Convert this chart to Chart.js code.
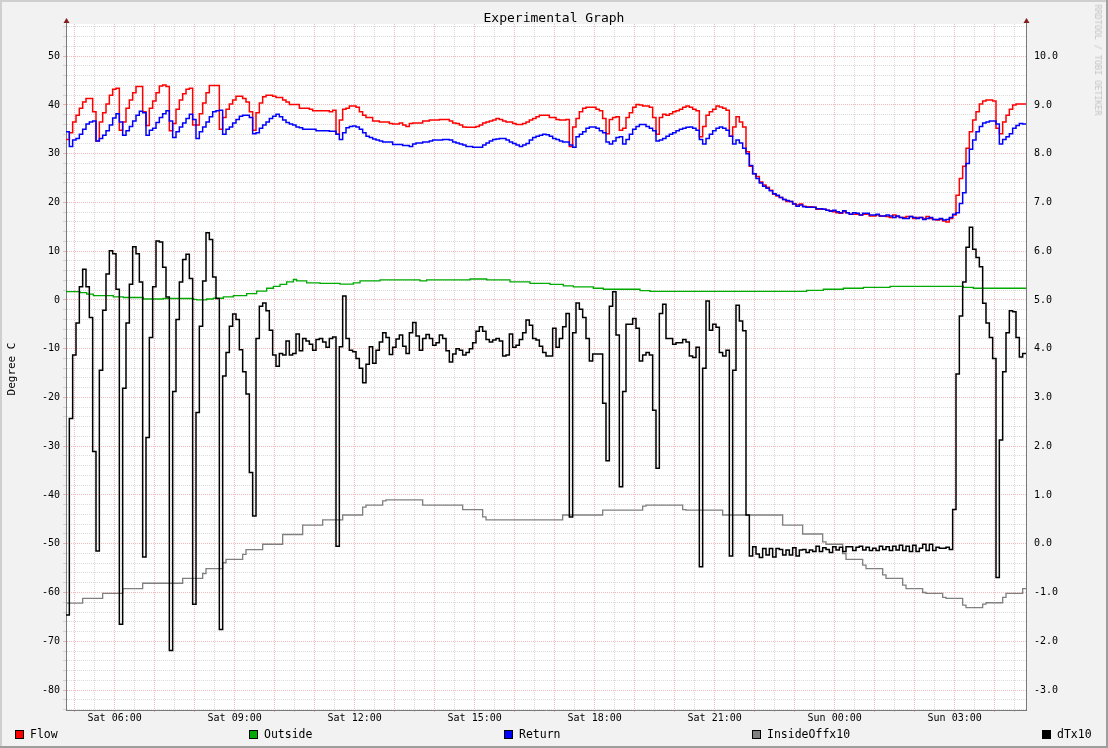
<!DOCTYPE html>
<html>
<head>
<meta charset="utf-8">
<title>Experimental Graph</title>
<script src="https://cdn.jsdelivr.net/npm/chart.js@4.4.1/dist/chart.umd.min.js"></script>
<style>
  html, body { margin: 0; padding: 0; background: #f2f2f2; }
  #wrap { position: relative; width: 1108px; height: 748px; overflow: hidden; font-family: 'DejaVu Sans Mono', monospace; }
  #wrap canvas { position: absolute; left: 0; top: 0; }
  .txt { position: absolute; white-space: nowrap; color: #000; }
  #title { left: 0; width: 1108px; top: 10px; text-align: center; font-size: 13px; line-height: 16px; }
  #ylabel { left: 11px; top: 369px; font-size: 11px; transform: translate(-50%, -50%) rotate(-90deg); }
  #stamp { left: 1098px; top: 60px; font-size: 8.4px; color: #c4c4c4; transform: translate(-50%, -50%) rotate(90deg); }
  .sw { position: absolute; top: 730px; width: 7px; height: 7px; border: 1px solid #000; }
  .key { position: absolute; top: 727px; font-size: 11.5px; line-height: 15px; white-space: nowrap; }
</style>
</head>
<body>
<div id="wrap">
  <canvas id="graph" width="1108" height="748"></canvas>
  <div class="txt" id="title">Experimental Graph</div>
  <div class="txt" id="ylabel">Degree C</div>
  <div class="txt" id="stamp">RRDTOOL / TOBI OETIKER</div>
  <div id="legend"></div>
</div>
<script>
// x = minutes after Sat 00:00, y = value; each point starts a 5 minute step that lasts until the next point
const flow = [[287,32.9],[292,34.3],[297,36.5],[302,37.9],[307,39.3],[312,40.6],[317,41.3],[327,38.6],[332,32.6],[337,36.5],[342,38.4],[347,40.2],[352,42.0],[357,43.2],[362,43.4],[367,34.8],[372,36.5],[377,39.3],[382,41.0],[387,42.5],[392,43.8],[402,38.6],[407,35.8],[412,39.3],[417,40.8],[422,42.5],[427,43.9],[432,44.1],[437,43.8],[442,34.7],[447,36.2],[452,39.1],[457,41.0],[462,42.3],[467,43.2],[472,43.4],[477,35.9],[487,38.2],[492,40.4],[497,42.5],[502,44.0],[517,35.0],[522,37.4],[527,39.1],[532,40.2],[537,41.0],[542,41.8],[552,41.3],[557,40.6],[562,38.6],[567,34.8],[572,38.4],[577,40.4],[582,41.7],[587,42.0],[597,41.8],[602,41.5],[612,41.0],[617,40.6],[622,40.1],[637,39.3],[652,39.1],[657,38.8],[682,38.6],[687,38.9],[692,34.0],[697,36.9],[702,39.1],[707,39.3],[712,39.8],[722,39.5],[727,38.6],[732,37.9],[737,37.4],[747,36.7],[757,36.5],[772,36.2],[777,36.1],[787,36.3],[792,35.9],[797,35.6],[802,36.2],[807,36.3],[822,36.7],[832,36.9],[847,37.0],[862,36.7],[867,36.3],[872,36.2],[877,35.9],[882,35.5],[887,35.4],[902,35.6],[907,35.9],[912,36.3],[917,36.5],[922,36.7],[927,36.9],[932,37.2],[937,37.0],[942,36.7],[947,36.5],[957,36.2],[962,36.0],[972,36.2],[977,36.5],[982,36.9],[987,37.2],[992,37.6],[997,37.9],[1012,37.4],[1022,37.0],[1027,36.9],[1037,37.0],[1042,31.5],[1047,35.5],[1052,37.2],[1057,38.6],[1062,39.3],[1067,39.5],[1082,39.1],[1087,38.8],[1092,37.2],[1097,34.1],[1102,37.0],[1107,37.4],[1112,37.6],[1117,34.8],[1122,35.2],[1127,37.4],[1132,38.4],[1137,39.5],[1142,40.1],[1147,40.0],[1152,39.8],[1162,39.5],[1167,37.4],[1172,34.0],[1177,37.4],[1182,38.1],[1187,37.9],[1192,38.2],[1197,38.6],[1202,38.8],[1207,39.1],[1212,39.5],[1217,39.8],[1222,39.5],[1227,39.1],[1232,38.8],[1237,33.5],[1242,35.6],[1247,37.9],[1252,38.6],[1257,39.1],[1262,39.8],[1267,39.6],[1272,39.3],[1277,38.9],[1282,33.6],[1287,35.5],[1292,37.6],[1297,36.5],[1302,35.5],[1307,30.4],[1312,27.4],[1317,25.9],[1322,25.3],[1327,24.2],[1332,23.6],[1337,23.1],[1342,22.5],[1347,21.7],[1352,21.3],[1357,21.0],[1362,20.6],[1367,20.2],[1377,19.7],[1382,19.5],[1387,19.7],[1392,19.2],[1397,19.1],[1407,19.0],[1412,18.6],[1427,18.4],[1432,18.3],[1437,18.1],[1442,17.9],[1447,17.8],[1452,18.1],[1457,17.9],[1462,17.6],[1477,17.4],[1482,17.6],[1492,17.2],[1502,17.4],[1507,17.2],[1517,17.1],[1522,16.9],[1527,17.4],[1532,17.1],[1537,16.9],[1547,17.1],[1557,16.7],[1562,16.9],[1572,16.7],[1577,17.1],[1582,16.7],[1587,16.5],[1592,16.4],[1597,16.5],[1602,16.2],[1607,16.0],[1612,16.7],[1617,17.4],[1622,21.5],[1627,24.9],[1632,27.4],[1637,31.1],[1642,34.5],[1647,36.9],[1652,38.6],[1657,40.2],[1662,40.8],[1667,41.0],[1677,40.8],[1682,35.2],[1687,34.1],[1692,36.5],[1697,37.9],[1702,39.1],[1707,40.0],[1712,40.2],[1727,40.2]];

const outside = [[287,1.7],[308,1.5],[318,1.2],[328,0.9],[358,0.65],[373,0.5],[403,0.2],[433,0.3],[478,0.1],[483,0.0],[498,0.2],[508,0.35],[523,0.65],[538,0.9],[558,1.3],[573,1.8],[588,2.4],[598,2.8],[608,3.2],[618,3.7],[628,4.2],[633,3.9],[648,3.5],[668,3.4],[698,3.25],[718,3.5],[728,3.9],[758,4.1],[818,3.9],[828,4.1],[893,4.3],[918,4.1],[953,3.7],[983,3.4],[1013,3.2],[1033,2.9],[1048,2.7],[1078,2.4],[1093,2.2],[1148,1.9],[1163,1.75],[1398,1.95],[1423,2.2],[1453,2.4],[1483,2.6],[1523,2.8],[1633,2.6],[1648,2.4],[1727,2.4]];

const ret = [[287,34.5],[292,31.5],[297,32.8],[302,33.1],[307,34.0],[312,35.0],[317,36.1],[322,36.5],[327,36.7],[332,32.6],[337,33.1],[342,33.8],[347,34.7],[352,35.9],[357,37.3],[362,38.2],[367,36.5],[372,33.8],[377,34.7],[382,35.6],[387,36.7],[392,37.9],[397,38.7],[402,38.4],[407,33.8],[412,34.8],[417,35.2],[422,36.4],[427,37.4],[432,38.2],[437,38.8],[442,36.7],[447,33.3],[452,34.5],[457,35.5],[462,36.3],[467,37.2],[472,38.1],[477,37.0],[482,33.1],[487,34.5],[492,35.5],[497,36.5],[502,37.6],[507,38.6],[512,38.8],[517,38.9],[522,34.0],[527,35.0],[532,35.5],[537,36.3],[542,37.0],[547,37.7],[552,37.9],[562,37.4],[567,34.1],[572,34.3],[577,35.2],[582,35.9],[587,36.5],[592,37.2],[597,37.7],[602,38.1],[607,37.6],[612,36.9],[617,36.4],[622,36.1],[627,35.9],[632,35.5],[637,35.3],[642,35.0],[662,34.7],[682,34.6],[692,34.0],[697,32.9],[702,34.3],[707,35.3],[712,35.6],[717,35.7],[722,35.5],[727,35.0],[732,34.3],[737,33.6],[742,33.3],[747,33.0],[752,32.8],[757,32.6],[762,32.4],[777,31.9],[792,31.7],[802,31.5],[807,32.0],[812,32.2],[822,32.4],[832,32.6],[837,32.8],[852,32.9],[862,32.8],[867,32.4],[872,32.2],[877,32.0],[882,31.8],[887,31.5],[897,31.3],[912,31.8],[917,32.2],[922,32.6],[927,32.9],[932,33.0],[937,33.1],[947,32.8],[952,32.4],[957,32.1],[962,31.8],[967,31.5],[972,31.8],[977,32.1],[982,32.8],[987,33.3],[992,33.6],[997,33.8],[1002,34.0],[1007,33.9],[1012,33.6],[1017,33.1],[1022,32.9],[1027,32.6],[1032,32.4],[1042,31.8],[1047,31.3],[1052,33.5],[1057,34.0],[1062,34.5],[1067,35.2],[1072,35.5],[1082,35.2],[1087,34.7],[1092,34.3],[1097,32.4],[1102,32.0],[1107,32.6],[1112,33.3],[1117,33.5],[1122,32.0],[1127,32.9],[1132,34.0],[1137,35.0],[1142,35.6],[1147,36.0],[1157,35.6],[1162,35.2],[1167,34.7],[1172,32.6],[1177,32.8],[1182,33.1],[1187,33.6],[1192,34.0],[1197,34.3],[1202,34.7],[1207,35.0],[1212,35.2],[1217,35.4],[1222,35.5],[1227,35.2],[1232,34.8],[1237,32.9],[1242,32.0],[1247,33.1],[1252,34.0],[1257,34.7],[1262,35.2],[1267,35.5],[1272,35.2],[1277,34.8],[1282,33.6],[1287,32.0],[1292,32.8],[1297,32.2],[1302,31.1],[1307,30.0],[1312,27.6],[1317,25.9],[1322,24.9],[1327,24.0],[1332,23.3],[1337,22.9],[1342,22.4],[1347,21.8],[1352,21.5],[1357,21.0],[1362,20.6],[1367,20.4],[1372,20.2],[1377,19.7],[1382,19.2],[1387,19.5],[1392,19.1],[1397,19.0],[1412,18.7],[1422,18.6],[1427,18.4],[1432,18.2],[1437,18.4],[1442,18.1],[1447,17.9],[1452,18.3],[1457,17.9],[1462,17.6],[1467,17.9],[1472,17.8],[1477,17.4],[1482,17.8],[1492,17.4],[1502,17.6],[1507,17.2],[1517,17.4],[1522,17.2],[1527,16.9],[1532,17.2],[1537,16.9],[1542,16.7],[1552,17.1],[1557,16.9],[1562,16.7],[1567,16.9],[1572,16.5],[1577,16.7],[1582,16.9],[1587,16.5],[1597,16.7],[1602,16.4],[1607,16.5],[1612,16.9],[1617,17.6],[1622,17.9],[1627,19.8],[1632,22.0],[1637,28.0],[1642,30.9],[1647,32.8],[1652,34.5],[1657,35.6],[1662,36.3],[1667,36.5],[1672,36.7],[1682,36.1],[1687,32.0],[1692,32.9],[1697,33.5],[1702,34.1],[1707,35.2],[1712,35.8],[1717,36.2],[1722,36.1],[1727,36.1]];

const insideOff = [[287,-62.2],[312,-61.2],[342,-60.2],[372,-59.2],[402,-58.1],[462,-57.1],[492,-56.1],[497,-55.1],[522,-53.9],[527,-53.2],[552,-52.2],[557,-51.2],[582,-50.1],[612,-48.1],[642,-46.2],[672,-45.1],[702,-44.1],[732,-42.5],[737,-42.1],[762,-41.2],[767,-41.0],[822,-42.1],[882,-43.0],[912,-44.5],[917,-45.1],[1032,-44.1],[1092,-43.1],[1152,-42.3],[1157,-42.1],[1212,-43.0],[1217,-43.1],[1272,-44.1],[1362,-46.2],[1392,-48.0],[1422,-49.6],[1427,-50.1],[1452,-52.0],[1457,-53.2],[1482,-54.4],[1487,-55.1],[1512,-56.4],[1517,-57.1],[1542,-58.5],[1547,-59.2],[1572,-60.0],[1577,-60.2],[1602,-61.0],[1607,-61.2],[1632,-62.6],[1637,-63.1],[1662,-62.4],[1667,-62.1],[1692,-61.0],[1697,-60.2],[1722,-59.2],[1727,-59.2]];

const dTx10 = [[287,-64.6],[292,-24.3],[297,-11.3],[302,-4.7],[307,2.7],[312,6.3],[317,2.7],[322,-3.6],[327,-31.1],[332,-51.5],[337,-14.4],[342,-2.1],[347,5.3],[352,10.1],[357,9.5],[362,2.2],[367,-66.5],[372,-18.1],[377,-4.7],[382,3.2],[387,10.9],[392,9.5],[397,3.7],[402,-52.7],[407,-28.2],[412,-7.7],[417,2.7],[422,12.1],[427,11.9],[432,6.7],[437,0.6],[442,-71.9],[447,-18.8],[452,-4.0],[457,3.7],[462,8.3],[467,9.4],[472,4.4],[477,-62.4],[482,-23.1],[487,-5.4],[492,3.9],[497,13.8],[502,12.4],[507,4.7],[512,0.3],[517,-67.6],[522,-15.6],[527,-10.8],[532,-5.4],[537,-2.9],[542,-4.0],[547,-10.2],[552,-14.7],[557,-19.3],[562,-35.4],[567,-44.3],[572,-7.9],[577,-1.3],[582,-0.6],[587,-2.2],[592,-6.2],[597,-11.3],[602,-13.6],[607,-11.0],[612,-11.3],[617,-8.4],[622,-11.3],[627,-11.0],[632,-7.0],[637,-10.4],[642,-7.9],[647,-8.4],[652,-9.1],[657,-10.3],[662,-8.1],[667,-7.9],[672,-8.6],[677,-9.7],[682,-7.9],[687,-7.6],[692,-50.5],[697,-9.6],[702,0.8],[707,-7.9],[712,-10.3],[717,-10.6],[722,-12.0],[727,-14.0],[732,-17.0],[737,-13.2],[742,-9.6],[747,-13.0],[752,-10.3],[757,-8.6],[762,-6.7],[767,-7.7],[772,-11.2],[777,-9.7],[782,-8.0],[787,-7.2],[792,-9.5],[797,-11.0],[802,-6.7],[807,-4.6],[812,-7.4],[817,-10.3],[822,-7.9],[827,-7.1],[832,-7.9],[837,-9.3],[842,-8.8],[847,-7.2],[852,-7.9],[857,-10.4],[862,-12.7],[867,-11.1],[872,-10.0],[877,-10.3],[882,-11.3],[887,-10.8],[892,-10.0],[897,-8.8],[902,-6.4],[907,-5.5],[912,-6.4],[917,-8.1],[922,-8.6],[927,-8.2],[932,-7.9],[937,-8.4],[942,-11.5],[947,-11.3],[952,-7.0],[957,-9.7],[962,-9.3],[967,-8.1],[972,-6.7],[977,-4.1],[982,-5.2],[987,-7.9],[992,-8.2],[997,-9.5],[1002,-10.8],[1007,-11.5],[1017,-5.8],[1022,-9.7],[1027,-7.9],[1032,-5.5],[1037,-2.8],[1042,-44.5],[1047,-6.7],[1052,-0.6],[1057,-1.9],[1062,-3.6],[1067,-7.9],[1072,-12.5],[1077,-11.1],[1092,-21.2],[1097,-33.0],[1102,-1.3],[1107,1.7],[1112,-7.2],[1117,-38.3],[1122,-18.8],[1127,-5.0],[1137,-3.8],[1142,-5.8],[1147,-12.5],[1152,-11.3],[1157,-10.8],[1162,-11.3],[1167,-22.6],[1172,-34.5],[1177,-2.8],[1182,-0.9],[1187,-7.9],[1197,-9.1],[1202,-8.8],[1212,-8.1],[1217,-8.6],[1222,-11.5],[1227,-11.8],[1232,-9.7],[1237,-54.7],[1242,-14.0],[1247,-0.2],[1252,-6.2],[1257,-5.0],[1262,-5.6],[1267,-10.8],[1272,-11.5],[1277,-10.3],[1282,-52.5],[1287,-14.4],[1292,-1.1],[1297,-4.3],[1302,-6.3],[1307,-44.1],[1312,-52.5],[1317,-50.6],[1322,-52.1],[1327,-52.8],[1332,-51.0],[1337,-52.3],[1342,-51.0],[1347,-52.7],[1352,-51.0],[1357,-51.2],[1362,-52.3],[1367,-51.3],[1372,-52.3],[1377,-50.8],[1382,-52.5],[1387,-51.3],[1392,-51.2],[1397,-51.8],[1402,-51.3],[1407,-51.6],[1412,-50.5],[1417,-51.6],[1422,-50.8],[1427,-51.2],[1432,-51.8],[1437,-50.6],[1442,-51.3],[1447,-50.7],[1452,-51.6],[1457,-50.6],[1467,-51.4],[1472,-50.7],[1477,-50.5],[1482,-51.3],[1487,-50.7],[1492,-51.4],[1497,-50.9],[1502,-51.4],[1507,-50.5],[1512,-51.2],[1517,-50.6],[1522,-51.4],[1527,-50.5],[1532,-51.3],[1537,-50.3],[1542,-51.4],[1547,-50.5],[1552,-51.6],[1557,-50.3],[1562,-51.6],[1567,-50.9],[1572,-50.1],[1577,-51.4],[1582,-50.1],[1587,-51.4],[1592,-50.7],[1597,-50.9],[1607,-50.7],[1612,-51.2],[1617,-43.0],[1622,-15.2],[1627,-3.3],[1632,3.7],[1637,10.8],[1642,14.9],[1647,10.4],[1652,8.7],[1657,6.8],[1662,-0.7],[1667,-4.7],[1672,-7.7],[1677,-12.0],[1682,-56.9],[1687,-28.7],[1692,-14.7],[1697,-6.7],[1702,-2.2],[1707,-2.4],[1712,-7.7],[1717,-11.7],[1722,-11.0],[1727,-11.0]];

// bottom axis labels
const labelMinutes = [360, 540, 720, 900, 1080, 1260, 1440, 1620];
const timeLabels = ['Sat 06:00', 'Sat 09:00', 'Sat 12:00', 'Sat 15:00', 'Sat 18:00', 'Sat 21:00', 'Sun 00:00', 'Sun 03:00'];

const mono = 'DejaVu Sans Mono';
const minorGrid = 'rgba(143,143,143,0.32)';
const majorGrid = 'rgba(222,79,79,0.38)';
const axisColor = '#7a7a7a';

// grey page, white plot area, shaded frame and axis arrows like rrdtool
const rrdFrame = {
  id: 'rrdFrame',
  beforeDraw(c) {
    const ctx = c.ctx, a = c.chartArea;
    ctx.save();
    ctx.fillStyle = '#f2f2f2';
    ctx.fillRect(0, 0, c.width, c.height);
    ctx.fillStyle = '#cfcfcf';
    ctx.fillRect(0, 0, c.width, 2);
    ctx.fillRect(0, 0, 2, c.height);
    ctx.fillStyle = '#9e9e9e';
    ctx.fillRect(0, c.height - 2, c.width, 2);
    ctx.fillRect(c.width - 2, 0, 2, c.height);
    ctx.fillStyle = '#ffffff';
    ctx.fillRect(a.left, a.top, a.right - a.left, a.bottom - a.top);
    ctx.restore();
  },
  afterDraw(c) {
    const ctx = c.ctx, a = c.chartArea;
    ctx.save();
    ctx.strokeStyle = axisColor;
    ctx.lineWidth = 1;
    ctx.beginPath();
    ctx.moveTo(a.left + 0.5, a.top); ctx.lineTo(a.left + 0.5, a.top - 3);
    ctx.moveTo(a.right + 0.5, a.top); ctx.lineTo(a.right + 0.5, a.top - 3);
    ctx.stroke();
    ctx.fillStyle = '#7f1f1f';
    [a.left + 0.5, a.right + 0.5].forEach(x => {
      ctx.beginPath();
      ctx.moveTo(x, a.top - 6);
      ctx.lineTo(x - 3, a.top - 1);
      ctx.lineTo(x + 3, a.top - 1);
      ctx.closePath();
      ctx.fill();
    });
    ctx.restore();
  }
};

function series(label, points, color, width, order) {
  return {
    label: label, data: points, borderColor: color, backgroundColor: color,
    borderWidth: width, stepped: true, pointRadius: 0, fill: false, order: order,
    yAxisID: 'y'
  };
}

const graph = new Chart(document.getElementById('graph'), {
  type: 'line',
  data: {
    datasets: [
      series('Flow', flow, '#ff0000', 1.5, 4),
      series('Outside', outside, '#00aa00', 1.3, 3),
      series('Return', ret, '#0000ff', 1.5, 2),
      series('InsideOffx10', insideOff, '#808080', 1.3, 1),
      series('dTx10', dTx10, '#000000', 1.5, 0)
    ]
  },
  options: {
    responsive: false,
    animation: false,
    layout: { padding: { top: 24, left: 0, right: 0, bottom: 0 } },
    plugins: { legend: { display: false }, title: { display: false }, tooltip: { enabled: false } },
    scales: {
      x: {
        type: 'linear', min: 287, max: 1727,
        afterBuildTicks: s => {
          const t = [];
          for (let m = 300; m < 1727; m += 30) t.push({ value: m });
          s.ticks = t;
        },
        afterFit: s => { s.height = 38; },
        ticks: {
          autoSkip: false, maxRotation: 0, padding: 0, color: '#000',
          font: { family: mono, size: 10 },
          callback: v => { const i = labelMinutes.indexOf(v); return i < 0 ? '' : timeLabels[i]; }
        },
        grid: {
          color: c => (c.tick && c.tick.value % 60 === 0) ? majorGrid : minorGrid,
          tickLength: 2
        },
        border: { color: axisColor, width: 1, dash: [1, 1] }
      },
      y: {
        position: 'left', min: -84.1, max: 56.6,
        afterBuildTicks: s => {
          const t = [];
          for (let v = -84; v <= 56; v += 2) t.push({ value: v });
          s.ticks = t;
        },
        afterFit: s => { s.width = 66; },
        ticks: {
          autoSkip: false, padding: 3, color: '#000',
          font: { family: mono, size: 10 },
          callback: v => v % 10 === 0 ? String(v) : ''
        },
        grid: {
          color: c => (c.tick && c.tick.value % 10 === 0) ? majorGrid : minorGrid,
          tickLength: 3
        },
        border: { color: axisColor, width: 1, dash: [1, 1] }
      },
      y2: {
        position: 'right', min: -3.41, max: 10.66,
        afterBuildTicks: s => {
          const t = [];
          for (let v = -3; v <= 10; v++) t.push({ value: v });
          s.ticks = t;
        },
        afterFit: s => { s.width = 82; },
        ticks: {
          autoSkip: false, padding: 8, color: '#000',
          font: { family: mono, size: 10 },
          callback: v => v.toFixed(1)
        },
        grid: { display: false, drawTicks: false },
        border: { color: axisColor, width: 1 }
      }
    }
  },
  plugins: [rrdFrame]
});

// legend row along the bottom, in the order rrdtool printed it
const legendX = [15, 249, 504, 752, 1042];
const legend = document.getElementById('legend');
graph.data.datasets.forEach((ds, i) => {
  const sw = document.createElement('div');
  sw.className = 'sw';
  sw.style.left = legendX[i] + 'px';
  sw.style.background = ds.borderColor;
  legend.appendChild(sw);
  const key = document.createElement('div');
  key.className = 'key';
  key.style.left = (legendX[i] + 15) + 'px';
  key.textContent = ds.label;
  legend.appendChild(key);
});
</script>
</body>
</html>
